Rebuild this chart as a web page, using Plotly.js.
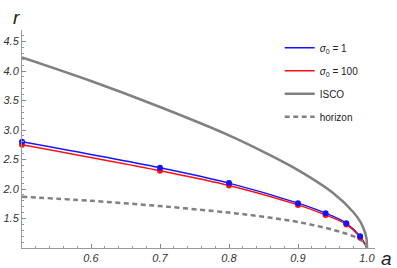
<!DOCTYPE html>
<html><head><meta charset="utf-8">
<script src="https://cdn.plot.ly/plotly-3.0.1.min.js"></script>
<style>html,body{margin:0;padding:0;background:#fff}#c{width:397px;height:268px}</style>
</head><body><div id="c"></div>
<script>
// spin samples (markers)
const aPts = [0.5, 0.7, 0.8, 0.9, 0.94, 0.97, 0.99];
const rSigma1 = [2.80, 2.36, 2.10, 1.76, 1.59, 1.42, 1.20];
const rSigma100 = [2.75, 2.31, 2.06, 1.73, 1.56, 1.40, 1.18];
// curve end at extremal spin
const aEnd = [1.0];
const rEnd = [1.0];
// ISCO curve
const aIsco = [0.5, 0.6, 0.7, 0.8, 0.85, 0.9, 0.95, 0.98, 0.99, 0.995, 0.999, 1.0];
const rIsco = [4.23, 3.83, 3.39, 2.91, 2.63, 2.32, 1.94, 1.61, 1.45, 1.33, 1.18, 1.0];
// horizon curve
const aHor = [0.5, 0.6, 0.7, 0.8, 0.85, 0.9, 0.95, 0.98, 0.99, 0.995, 0.999, 1.0];
const rHor = [1.87, 1.80, 1.71, 1.60, 1.53, 1.44, 1.31, 1.20, 1.14, 1.10, 1.04, 1.0];
const xTicks = [0.6, 0.7, 0.8, 0.9, 1.0];
const xTickText = ['0.6', '0.7', '0.8', '0.9', '1.0'];
const yTicks = [1.5, 2.0, 2.5, 3.0, 3.5, 4.0, 4.5];
const yTickText = ['1.5', '2.0', '2.5', '3.0', '3.5', '4.0', '4.5'];

const BLUE = 'rgb(20,20,255)', RED = 'rgb(255,15,15)', GRAY = 'rgb(128,128,128)';
const lf = {family: 'Liberation Sans, Arial, sans-serif', size: 10, color: '#222'};
const traces = [
  {x: aPts.concat(aEnd), y: rSigma1.concat(rEnd), mode: 'lines', line: {color: BLUE, width: 1.4, shape: 'spline'},
   name: '<i>σ</i><sub>0</sub> = 1', legendgroup: 'g1'},
  {x: aPts.concat(aEnd), y: rSigma100.concat(rEnd), mode: 'lines', line: {color: RED, width: 1.4, shape: 'spline'},
   name: '<i>σ</i><sub>0</sub> = 100', legendgroup: 'g2'},
  {x: aIsco, y: rIsco, mode: 'lines', line: {color: GRAY, width: 2.5, shape: 'spline'}, name: 'ISCO', legendgroup: 'g3'},
  {x: aHor, y: rHor, mode: 'lines', line: {color: GRAY, width: 2.5, dash: '5px,3.5px', shape: 'spline'}, name: 'horizon', legendgroup: 'g4'},
  {x: aPts, y: rSigma100, mode: 'markers', marker: {color: RED, size: 6}, showlegend: false, cliponaxis: false},
  {x: aPts, y: rSigma1, mode: 'markers', marker: {color: BLUE, size: 6}, showlegend: false, cliponaxis: false}
];
const tf = {family: 'Liberation Sans, Arial, sans-serif', size: 11, color: '#333', style: 'italic'};
const layout = {
  width: 397, height: 268,
  margin: {l: 22, r: 22, t: 30, b: 20},
  paper_bgcolor: '#fff', plot_bgcolor: '#fff',
  showlegend: true,
  legend: {x: 0.73, y: 0.985, xanchor: 'left', yanchor: 'top', font: lf, bgcolor: 'rgba(0,0,0,0)',
           traceorder: 'grouped', tracegroupgap: 4},
  xaxis: {range: [0.5, 1.0116], tickvals: xTicks, ticktext: xTickText, ticks: 'inside', ticklen: 4, tickcolor: '#888',
          showgrid: false, zeroline: false, showline: true, linecolor: '#999', linewidth: 1, tickfont: tf,
          minor: {dtick: 0.02, tick0: 0.5, ticks: 'inside', ticklen: 2, tickcolor: '#999', showgrid: false}},
  yaxis: {range: [1.0, 4.695], tickvals: yTicks, ticktext: yTickText, ticks: 'inside', ticklen: 4, tickcolor: '#888',
          showgrid: false, zeroline: false, showline: true, linecolor: '#999', linewidth: 1, tickfont: tf,
          minor: {dtick: 0.1, tick0: 1.0, ticks: 'inside', ticklen: 2, tickcolor: '#999', showgrid: false}},
  annotations: [
    {text: 'r', xref: 'paper', yref: 'paper', x: -0.015, y: 1.0, yanchor: 'bottom', xanchor: 'center', showarrow: false,
     font: {family: 'Liberation Sans, Arial, sans-serif', size: 19, color: '#222', style: 'italic'}},
    {text: 'a', xref: 'paper', yref: 'paper', x: 1.01, y: -0.05, yanchor: 'middle', xanchor: 'left', showarrow: false,
     font: {family: 'Liberation Sans, Arial, sans-serif', size: 19, color: '#222', style: 'italic'}}
  ]
};
Plotly.newPlot('c', traces, layout, {displayModeBar: false, staticPlot: true});
</script></body></html>
